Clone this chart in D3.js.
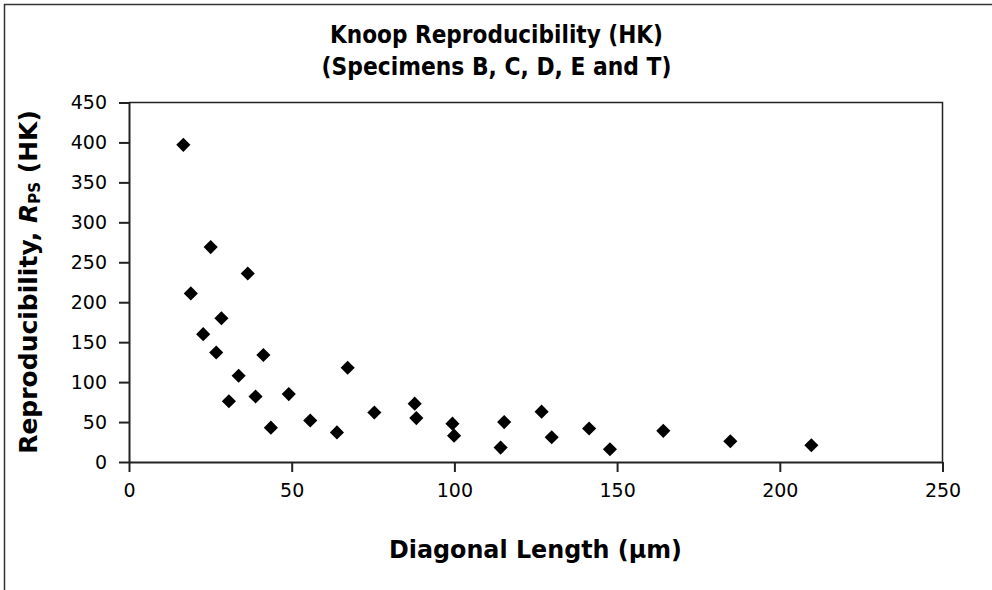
<!DOCTYPE html>
<html>
<head>
<meta charset="utf-8">
<script src="https://cdn.jsdelivr.net/npm/d3@7/dist/d3.min.js"></script>
<style>
  html, body { margin: 0; padding: 0; background: #fff; }
  svg { display: block; }
</style>
</head>
<body>
<svg id="chart" width="992" height="590"></svg>
<script>
// ---- Data ----
const titleLines = ["Knoop Reproducibility (HK)", "(Specimens B, C, D, E and T)"];
const xTitle = "Diagonal Length (\u00b5m)";
const xTicks = [0, 50, 100, 150, 200, 250];
const yTicks = [0, 50, 100, 150, 200, 250, 300, 350, 400, 450];
const diagonal = [16.7, 25.1, 36.5, 19.0, 28.4, 22.8, 26.8, 41.3, 33.7, 30.7,
                  38.9, 49.1, 43.6, 55.7, 63.9, 67.2, 75.4, 87.8, 88.3, 99.4,
                  99.9, 115.3, 114.2, 126.8, 129.9, 141.4, 147.8, 164.2, 184.8, 209.7];
const rps = [397, 269, 236, 211, 180, 160, 137, 134, 108, 76,
             82, 85, 43, 52, 37, 118, 62, 73, 55, 48,
             33, 50, 18, 63, 31, 42, 16, 39, 26, 21];

const svg = d3.select("#chart");
const FONT = "'DejaVu Sans', Verdana, sans-serif";

// outer frame
svg.append("rect")
  .attr("x", 4.5).attr("y", 4.5).attr("width", 1000).attr("height", 600)
  .attr("fill", "none").attr("stroke", "#333").attr("stroke-width", 1.5);

const x = d3.scaleLinear().domain([0, 250]).range([129, 942.5]);
const y = d3.scaleLinear().domain([0, 450]).range([462, 102.5]);

// title
svg.append("g").selectAll("text").data(titleLines).join("text")
  .attr("x", 496.5)
  .attr("y", (d, i) => 43 + i * 32)
  .attr("text-anchor", "middle")
  .attr("font-family", FONT).attr("font-weight", "bold").attr("font-size", 25)
  .attr("textLength", (d, i) => i === 0 ? 333 : 350)
  .attr("lengthAdjust", "spacingAndGlyphs")
  .attr("fill", "#000")
  .text(d => d);

// plot frame (top and right)
svg.append("path")
  .attr("d", `M${x(0)},${y(450)}H${x(250)}V${y(0)}`)
  .attr("fill", "none").attr("stroke", "#222").attr("stroke-width", 1.5);

// x axis
const gx = svg.append("g").attr("transform", `translate(0,${y(0)})`)
  .call(d3.axisBottom(x).tickValues(xTicks).tickSize(10).tickSizeOuter(0).tickPadding(12));
// y axis
const gy = svg.append("g").attr("transform", `translate(${x(0)},0)`)
  .call(d3.axisLeft(y).tickValues(yTicks).tickSize(10).tickSizeOuter(0).tickPadding(12));

[gx, gy].forEach(g => {
  g.select(".domain").attr("stroke", "#222").attr("stroke-width", 2);
  g.selectAll(".tick line").attr("stroke", "#222").attr("stroke-width", 2);
  g.selectAll(".tick text").attr("font-family", FONT).attr("font-size", 19).attr("fill", "#000");
});

// axis titles
svg.append("text")
  .attr("x", 535.5).attr("y", 558)
  .attr("text-anchor", "middle")
  .attr("font-family", FONT).attr("font-weight", "bold").attr("font-size", 25)
  .attr("textLength", 293).attr("lengthAdjust", "spacingAndGlyphs")
  .text(xTitle);

const yt = svg.append("text")
  .attr("transform", "translate(37,282) rotate(-90)")
  .attr("text-anchor", "middle")
  .attr("font-family", FONT).attr("font-weight", "bold").attr("font-size", 25);
yt.append("tspan").text("Reproducibility, ");
yt.append("tspan").attr("font-style", "italic").text("R");
yt.append("tspan").attr("font-size", 15).attr("dy", 3).text("PS");
yt.append("tspan").attr("dy", -3).text(" (HK)");

// markers
const sym = d3.symbol(d3.symbolSquare, 100);
svg.append("g").selectAll("path").data(diagonal.map((d, i) => [d, rps[i]])).join("path")
  .attr("transform", d => `translate(${x(d[0])},${y(d[1])}) rotate(45)`)
  .attr("d", sym)
  .attr("fill", "#000");
</script>
</body>
</html>
